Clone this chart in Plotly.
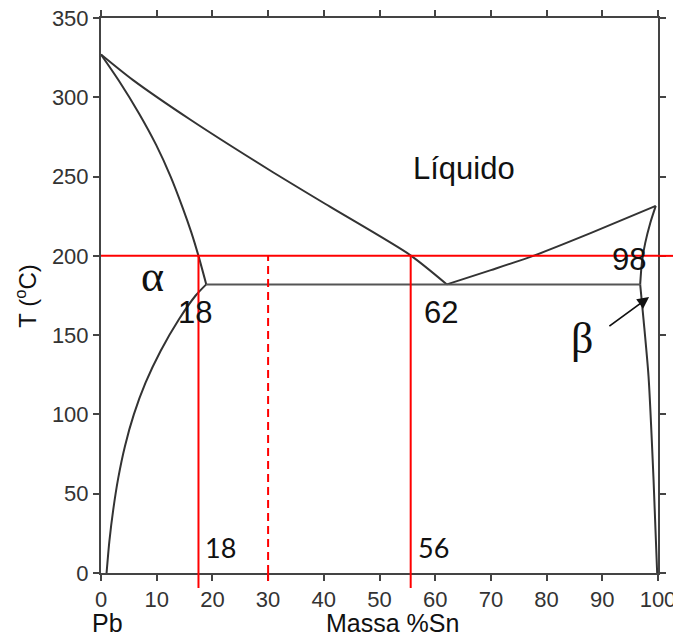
import plotly.graph_objects as go

# ---------------- data ----------------
# Liquidus (Pb side)
liq_pb_x = [0, 5.7, 16.0, 30.3, 41.1, 55.5, 62.1]
liq_pb_T = [327, 311, 286, 254, 231, 200.5, 182]
# Solidus alpha
sol_a_x = [0, 3.3, 6.8, 9.9, 12.5, 14.7, 16.2, 17.5, 18.9]
sol_a_T = [327, 310, 290, 270, 250, 230, 215, 200, 182]
# Solvus alpha
solv_a_x = [18.9, 17.0, 14.0, 10.7, 8.0, 5.9, 4.3, 3.1, 2.2, 1.5, 1.0]
solv_a_T = [182, 175, 160, 140, 120, 100, 80, 60, 40, 20, 0]
# Liquidus (Sn side)
liq_sn_x = [62.1, 70.0, 77.6, 88.0, 99.6]
liq_sn_T = [182, 191, 200, 214.5, 231.5]
# Solidus beta
sol_b_x = [99.6, 98.6, 97.7, 97.1, 96.8]
sol_b_T = [231.5, 220.6, 208, 195.4, 182]
# Solvus beta
solv_b_x = [96.8, 97.4, 98.3, 99.2, 99.85]
solv_b_T = [182, 160, 124, 59, 0]
# Eutectic isotherm
eut_x = [18.9, 96.8]
eut_T = [182, 182]

# Red construction lines
t_line = 200
vert_solid = [17.5, 55.6]
vert_dash = 30
bottom_labels = ["18", "56"]

x_ticks = list(range(0, 101, 10))
y_ticks = list(range(0, 351, 50))
X_RANGE = [0, 100]
Y_RANGE = [0, 350]

CURVE = "#333333"
RED = "#ff0000"
SANS = "Liberation Sans, Arial, sans-serif"
SERIF = "Liberation Serif, Times New Roman, serif"

fig = go.Figure()

for xs, ts in [
    (liq_pb_x, liq_pb_T),
    (sol_a_x, sol_a_T),
    (solv_a_x, solv_a_T),
    (liq_sn_x, liq_sn_T),
    (sol_b_x, sol_b_T),
    (solv_b_x, solv_b_T),
]:
    fig.add_trace(go.Scatter(x=xs, y=ts, mode="lines",
                             line=dict(color=CURVE, width=2, shape="spline", smoothing=0.7),
                             hoverinfo="skip", showlegend=False))

fig.add_trace(go.Scatter(x=eut_x, y=eut_T, mode="lines",
                         line=dict(color="#555555", width=2),
                         hoverinfo="skip", showlegend=False))

# red horizontal line at T = 200
fig.add_trace(go.Scatter(x=X_RANGE, y=[t_line, t_line], mode="lines",
                         line=dict(color=RED, width=2), hoverinfo="skip", showlegend=False))
# extension beyond the right axis
fig.add_shape(type="line", xref="x domain", yref="y", x0=1, x1=1.04,
              y0=t_line, y1=t_line, line=dict(color=RED, width=2))

# red vertical lines
for xv in vert_solid:
    fig.add_trace(go.Scatter(x=[xv, xv], y=[Y_RANGE[0], t_line], mode="lines",
                             line=dict(color=RED, width=2), hoverinfo="skip", showlegend=False))
    fig.add_shape(type="line", xref="x", yref="y domain", x0=xv, x1=xv,
                  y0=0, y1=-0.027, line=dict(color=RED, width=2))
fig.add_trace(go.Scatter(x=[vert_dash, vert_dash], y=[Y_RANGE[0], t_line], mode="lines",
                         line=dict(color=RED, width=2, dash="8px,5px"),
                         hoverinfo="skip", showlegend=False))
fig.add_shape(type="line", xref="x", yref="y domain", x0=vert_dash, x1=vert_dash,
              y0=0, y1=-0.02, line=dict(color=RED, width=2, dash="8px,5px"))

ann = []
def txt(x, y, s, size, family=SANS, xanchor="center", xref="x", yref="y", **kw):
    ann.append(dict(x=x, y=y, xref=xref, yref=yref, text=s, showarrow=False,
                    xanchor=xanchor, yanchor="middle",
                    font=dict(size=size, family=family, color="#111111"), **kw))

txt(65.2, 255, "Líquido", 31)
txt(9.2, 187, "α", 44, family=SERIF)
txt(16.8, 164, "18", 31)
txt(61.0, 164, "62", 31)
txt(94.8, 197.5, "98", 31)
txt(86.4, 148, "β", 44, family=SERIF)
for xv, lab in zip(vert_solid, bottom_labels):
    txt(xv + 0.9, 16, lab, 27, family="Lato, Open Sans, sans-serif", xanchor="left")

# arrow pointing to beta phase
ann.append(dict(x=98.4, y=174, ax=91.0, ay=155, xref="x", yref="y", axref="x", ayref="y",
                showarrow=True, arrowhead=2, arrowsize=1.3, arrowwidth=1.8,
                arrowcolor="#111111", text=""))

# axis texts
txt(1.1, -0.09, "Pb", 25, yref="paper")
txt(52.3, -0.09, "Massa %Sn", 25, yref="paper")
txt(100.7, -0.09, "Sn", 25, yref="paper")
txt(-0.136, 0.5, "T (<sup>o</sup>C)", 24, xref="paper", yref="paper", textangle=-90)

axis_common = dict(showline=True, linecolor="#444444", linewidth=2, mirror="ticks",
                   ticks="outside", ticklen=6, tickwidth=1.5, tickcolor="#444444",
                   showgrid=False, zeroline=False, automargin=False,
                   ticklabeloverflow="allow",
                   tickfont=dict(size=22, family=SANS, color="#333333"))

# the page adds an 8px body margin, so the figure is sized/offset to compensate
fig.update_layout(
    width=673, height=629,
    margin=dict(l=93, r=23, t=10, b=64),
    paper_bgcolor="white", plot_bgcolor="white",
    xaxis=dict(range=X_RANGE, tickvals=x_ticks, **axis_common),
    yaxis=dict(range=Y_RANGE, tickvals=y_ticks, **axis_common),
    annotations=ann,
    showlegend=False,
)

fig.write_html("out.html")
